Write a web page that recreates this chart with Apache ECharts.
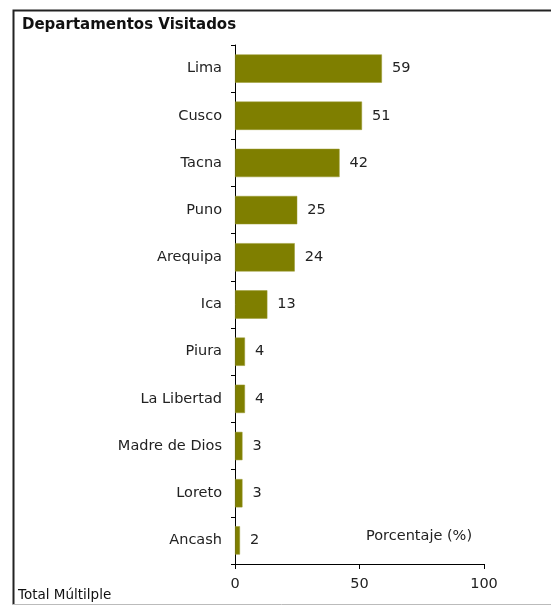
<!DOCTYPE html>
<html>
<head>
<meta charset="utf-8">
<script src="https://cdn.jsdelivr.net/npm/echarts@6/dist/echarts.min.js"></script>
<style>
  html, body { margin: 0; padding: 0; background: #fff; }
  #chart { width: 551px; height: 605px; }
</style>
</head>
<body>
<div id="chart"></div>
<script>
  // datos
  var departamentos = ['Lima', 'Cusco', 'Tacna', 'Puno', 'Arequipa', 'Ica', 'Piura', 'La Libertad', 'Madre de Dios', 'Loreto', 'Ancash'];
  var porcentajes = [59, 51, 42, 25, 24, 13, 4, 4, 3, 3, 2];
  var ticksX = [0, 50, 100];

  var fuente = '"DejaVu Sans", Arial, sans-serif';

  var chart = echarts.init(document.getElementById('chart'));
  chart.setOption({
    animation: false,
    textStyle: { fontFamily: fuente },
    grid: { left: 235, right: 67, top: 45, bottom: 41, containLabel: false },
    graphic: [
      {
        type: 'rect', left: 11, top: 8, z: 0,
        shape: { width: 560, height: 620 },
        style: { fill: 'none', stroke: '#222', lineWidth: 2 }
      },
      {
        type: 'line', z: 1,
        shape: { x1: 12, y1: 604.5, x2: 551, y2: 604.5 },
        style: { stroke: '#bbb', lineWidth: 1 }
      },
      {
        type: 'text', left: 22, top: 18,
        style: { text: 'Departamentos Visitados', font: 'bold 15px ' + fuente, fill: '#111' }
      },
      {
        type: 'text', left: 18, top: 588,
        style: { text: 'Total Múltilple', font: '13.5px ' + fuente, fill: '#111' }
      },
      {
        type: 'text', left: 366, top: 529,
        style: { text: 'Porcentaje (%)', font: '14.5px ' + fuente, fill: '#222' }
      }
    ],
    xAxis: {
      type: 'value',
      min: ticksX[0],
      max: ticksX[ticksX.length - 1],
      interval: 50,
      splitLine: { show: false },
      axisLine: { show: true, lineStyle: { color: '#000', width: 1 } },
      axisTick: { show: true, length: 5, lineStyle: { color: '#000' } },
      axisLabel: { color: '#222', fontSize: 14.5, margin: 13 }
    },
    yAxis: {
      type: 'category',
      inverse: true,
      data: departamentos,
      axisLine: { show: true, lineStyle: { color: '#000', width: 1 } },
      axisTick: { show: true, length: 4, lineStyle: { color: '#000' } },
      axisLabel: { color: '#222', fontSize: 14.5, margin: 13 }
    },
    series: [{
      type: 'bar',
      data: porcentajes,
      barCategoryGap: '40%',
      itemStyle: { color: '#7f7f00', borderColor: '#9a9a30', borderWidth: 0.5 },
      label: { show: true, position: 'right', distance: 10, color: '#222', fontSize: 14.5 }
    }]
  });
</script>
</body>
</html>
